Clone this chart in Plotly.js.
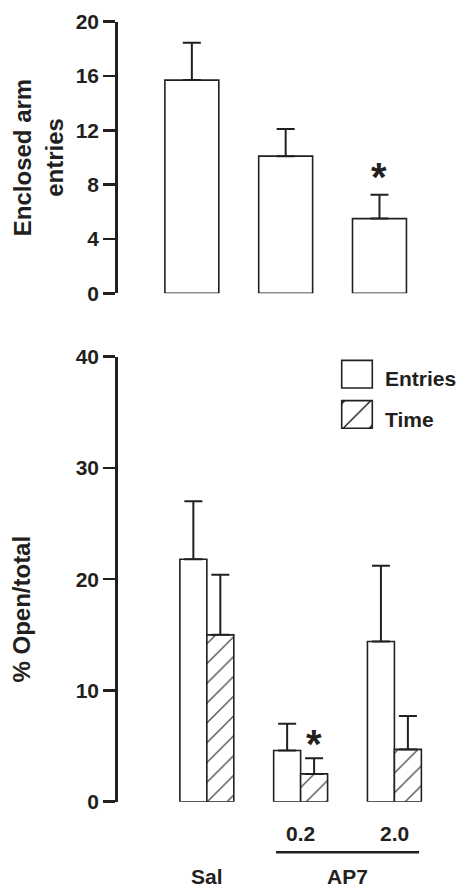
<!DOCTYPE html>
<html>
<head>
<meta charset="utf-8">
<script src="https://cdn.plot.ly/plotly-3.0.1.min.js"></script>
<style>html,body{margin:0;padding:0;background:#fff;}#chart{width:462px;height:888px;}</style>
</head>
<body>
<div id="chart"></div>
<script>
// ---- data ----
const groups = ['Sal', 'AP7 0.2', 'AP7 2.0'];
const enclosedMean = [15.7, 10.1, 5.5];
const enclosedSem = [2.75, 2.0, 1.75];
const entriesMean = [21.8, 4.6, 14.4];
const entriesSem = [5.2, 2.4, 6.8];
const timeMean = [15.0, 2.5, 4.7];
const timeSem = [5.4, 1.4, 3.0];
const topTicks = [0, 4, 8, 12, 16, 20];
const bottomTicks = [0, 10, 20, 30, 40];
const doseLabels = ['0.2', '2.0'];
const groupLabels = ['Sal', 'AP7'];

const ink = '#231f20';
const FONT = 'Liberation Sans, Arial, Helvetica, sans-serif';
const zeros = a => a.map(() => 0);
const pad = n => '&nbsp;'.repeat(n);

const traces = [
  {
    type: 'bar', x: groups, y: enclosedMean, xaxis: 'x', yaxis: 'y',
    marker: {color: 'white', line: {color: ink, width: 1.6}},
    error_y: {type: 'data', symmetric: false, array: enclosedSem, arrayminus: zeros(enclosedSem),
              color: ink, thickness: 2, width: 9},
    showlegend: false, hoverinfo: 'skip'
  },
  {
    type: 'bar', name: 'Entries', legendgroup: 'a', x: groups, y: entriesMean, xaxis: 'x2', yaxis: 'y2',
    marker: {color: 'white', line: {color: ink, width: 1.6}},
    error_y: {type: 'data', symmetric: false, array: entriesSem, arrayminus: zeros(entriesSem),
              color: ink, thickness: 2, width: 9},
    hoverinfo: 'skip'
  },
  {
    type: 'bar', name: 'Time', legendgroup: 'b', x: groups, y: timeMean, xaxis: 'x2', yaxis: 'y2',
    marker: {color: 'white', line: {color: ink, width: 1.6},
             pattern: {shape: '/', fgcolor: ink, bgcolor: 'white', size: 14, solidity: 0.08}},
    error_y: {type: 'data', symmetric: false, array: timeSem, arrayminus: zeros(timeSem),
              color: ink, thickness: 2, width: 9},
    hoverinfo: 'skip'
  }
];

const yCommon = {
  showline: true, linecolor: ink, linewidth: 2.5,
  ticks: 'outside', ticklen: 12, tickwidth: 2.5, tickcolor: ink,
  showgrid: false, zeroline: false, fixedrange: true,
  tickfont: {family: FONT, size: 21, color: ink, weight: 'bold'},
  ticklabelstandoff: 0
};

const H = 888, W = 462;
const layout = {
  width: W, height: H,
  margin: {l: 0, r: 0, t: 0, b: 0},
  paper_bgcolor: 'white', plot_bgcolor: 'white',
  font: {family: FONT, color: ink},
  barmode: 'group', bargap: 0.425, bargroupgap: 0,
  showlegend: true,
  legend: {x: 346 / W, xanchor: 'left', y: 1 - 358 / H, yanchor: 'top',
           font: {family: FONT, size: 21, color: ink, weight: 'bold'},
           tracegroupgap: 10, bgcolor: 'rgba(0,0,0,0)'},
  xaxis: {domain: [118 / W, 1], range: [-0.79, 2.869], visible: false, fixedrange: true, anchor: 'y'},
  yaxis: Object.assign({}, yCommon, {
    domain: [1 - 293.3 / H, 1 - 21.7 / H], range: [0, 20], tickvals: topTicks, anchor: 'x',
    title: {text: 'Enclosed arm<br>entries', font: {family: FONT, size: 24, color: ink, weight: 'bold'}, standoff: 6}
  }),
  xaxis2: {domain: [118 / W, 1], range: [-0.95, 2.71], visible: false, fixedrange: true, anchor: 'y2'},
  yaxis2: Object.assign({}, yCommon, {
    domain: [1 - 801.7 / H, 1 - 356.7 / H], range: [0, 40], tickvals: bottomTicks, anchor: 'x2',
    title: {text: '% Open/total' + pad(9), font: {family: FONT, size: 24, color: ink, weight: 'bold'}, standoff: 39}
  }),
  annotations: [
    {xref: 'x', yref: 'y', x: groups[2], y: 9.1, yshift: -7, text: '*', showarrow: false,
     font: {family: FONT, size: 40, color: ink, weight: 'bold'}, yanchor: 'middle'},
    {xref: 'x2', yref: 'y2', x: groups[1], y: 5.8, xshift: 13.7, yshift: -7, text: '*', showarrow: false,
     font: {family: FONT, size: 40, color: ink, weight: 'bold'}, yanchor: 'middle'},
    {xref: 'x2', yref: 'paper', x: groups[1], y: 1 - 833 / H, text: doseLabels[0], showarrow: false,
     font: {family: FONT, size: 21, color: ink, weight: 'bold'}, yanchor: 'middle'},
    {xref: 'x2', yref: 'paper', x: groups[2], y: 1 - 833 / H, text: doseLabels[1], showarrow: false,
     font: {family: FONT, size: 21, color: ink, weight: 'bold'}, yanchor: 'middle'},
    {xref: 'x2', yref: 'paper', x: groups[0], y: 0, yshift: -2, text: groupLabels[0], showarrow: false,
     font: {family: FONT, size: 21, color: ink, weight: 'bold'}, yanchor: 'bottom'},
    {xref: 'x2', yref: 'paper', x: 1.5, y: 0, yshift: -2, text: groupLabels[1], showarrow: false,
     font: {family: FONT, size: 21, color: ink, weight: 'bold'}, yanchor: 'bottom'}
  ],
  shapes: [
    {type: 'line', xref: 'x2', yref: 'paper', x0: 0.738, x1: 2.263, y0: 1 - 852.3 / H, y1: 1 - 852.3 / H,
     line: {color: ink, width: 2.5}}
  ]
};

Plotly.newPlot('chart', traces, layout, {staticPlot: true, displayModeBar: false}).then(() => {
  const sb = document.querySelector('.legend .scrollbox');
  if (sb) sb.removeAttribute('clip-path');
  let k = 0;
  document.querySelectorAll('.legend .legendpoints path').forEach(p => {
    const t = p.getAttribute('transform') || '';
    p.setAttribute('transform', t + ' translate(-8,-4) scale(2.55,2.3)');
    p.style.vectorEffect = 'non-scaling-stroke';
    const fill = p.style.fill || p.getAttribute('fill') || '';
    const m = fill.match(/url\(["']?#([^"')]+)["']?\)/);
    if (m) {
      const pat = document.getElementById(m[1]);
      if (pat) {
        const c = pat.cloneNode(true);
        c.id = 'legendpat' + (k++);
        c.setAttribute('patternTransform', 'scale(0.72,0.8)');
        c.querySelectorAll('path,line').forEach(q => { q.style.vectorEffect = 'non-scaling-stroke'; });
        pat.parentNode.appendChild(c);
        p.style.fill = 'url(#' + c.id + ')';
      }
    }
  });
});
</script>
</body>
</html>
